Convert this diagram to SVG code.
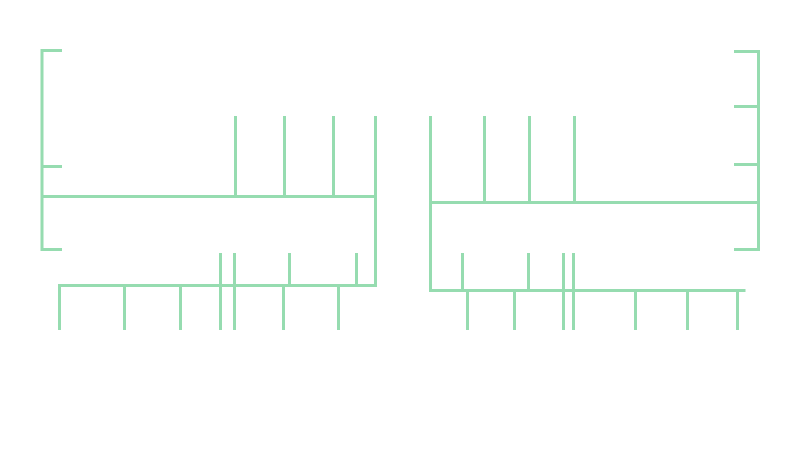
<svg xmlns="http://www.w3.org/2000/svg" width="800" height="450" viewBox="0 0 800 450">
<style>
.w{fill:none;stroke:#96dcb0;stroke-width:3;stroke-linecap:butt;stroke-linejoin:miter}
</style>
<rect width="800" height="450" fill="#ffffff"/>
<g id="left" class="w">
<path d="M62 50.5H42V249.5H62"/>
<path d="M42 166.5H62"/>
<path d="M42 196.5H375.5"/>
<path d="M235.5 116V196.5M284.5 116V196.5M333.5 116V196.5"/>
<path d="M375.5 116V285.5H59.5V330"/>
<path d="M220.5 253V330M234.5 253V330M289.5 253V285.5M356.5 253V285.5"/>
<path d="M124.5 285.5V330M180.5 285.5V330M283.5 285.5V330M338.5 285.5V330"/>
</g>
<g id="right" class="w">
<path d="M734 51.5H758.5V249.5H734"/>
<path d="M734 106.5H758.5M734 164.5H758.5"/>
<path d="M430.5 202.5H758.5"/>
<path d="M430.5 116V290.5H745.5"/>
<path d="M484.5 116V202.5M529.5 116V202.5M574.5 116V202.5"/>
<path d="M462.5 253V290.5M528.5 253V290.5M563.5 253V330M573.5 253V330"/>
<path d="M467.5 290.5V330M514.5 290.5V330M635.5 290.5V330M687.5 290.5V330M737.5 290.5V330"/>
</g>
</svg>
